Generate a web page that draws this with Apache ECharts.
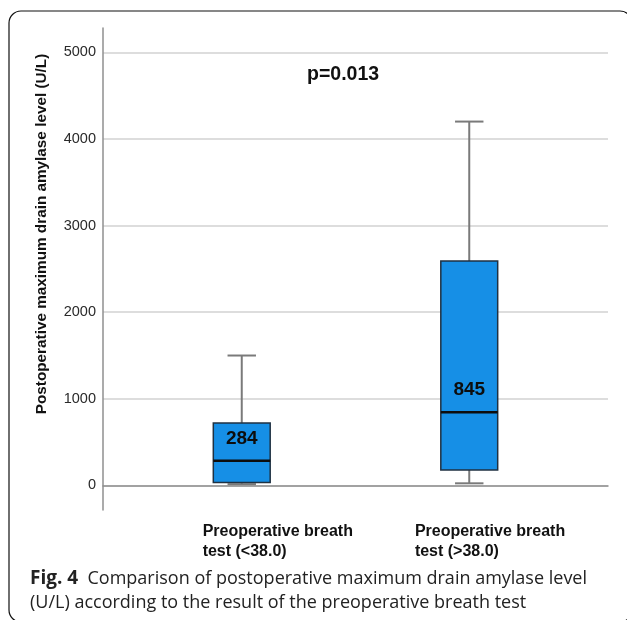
<!DOCTYPE html>
<html>
<head>
<meta charset="utf-8">
<script src="https://cdn.jsdelivr.net/npm/echarts@6/dist/echarts.min.js"></script>
<style>
html,body{margin:0;padding:0;background:#fff;}
#chart{width:627px;height:620px;}
</style>
</head>
<body>
<div id="chart"></div>
<script>
// ---- data ----
const categories = ['Preoperative breath\ntest (<38.0)', 'Preoperative breath\ntest (>38.0)'];
const whiskerLow = [15, 25];
const q1 = [35, 180];
const median = [284, 845];
const q3 = [722, 2590];
const whiskerHigh = [1500, 4200];
const yTicks = [0, 1000, 2000, 3000, 4000, 5000];
const pText = 'p=0.013';
const yTitle = 'Postoperative maximum drain amylase level (U/L)';
const captionBold = 'Fig. 4';
const captionLine1 = 'Comparison of postoperative maximum drain amylase level';
const captionLine2 = '(U/L) according to the result of the preoperative breath test';

const yMin = -283, yMax = 5280;
const FONT = '"Liberation Sans", Arial, sans-serif';

const boxData = categories.map((c, i) => [i, whiskerLow[i], q1[i], median[i], q3[i], whiskerHigh[i]]);

const chart = echarts.init(document.getElementById('chart'), null, {renderer: 'canvas'});

const gridTop = 28, gridBottom = 110;

const option = {
  backgroundColor: '#fff',
  animation: false,
  title: {
    text: pText, left: 302, top: 60,
    textStyle: {fontFamily: FONT, fontSize: 19.5, fontWeight: 'bold', color: '#111'}
  },
  grid: [
    {left: 103, right: 19, top: gridTop, bottom: gridBottom},   // frame / gridlines
    {left: 128, right: 44, top: gridTop, bottom: gridBottom},   // data
    {left: 96.5, right: 106, top: gridTop, bottom: gridBottom}  // category labels
  ],
  xAxis: [
    {gridIndex: 0, type: 'category', data: categories, boundaryGap: true,
     axisLine: {show: true, lineStyle: {color: '#8f8f8f', width: 1.5}},
     axisTick: {show: false}, axisLabel: {show: false}, splitLine: {show: false}},
    {gridIndex: 1, type: 'category', data: categories, boundaryGap: true,
     axisLine: {show: false}, axisTick: {show: false}, axisLabel: {show: false}},
    {gridIndex: 2, type: 'category', data: categories, boundaryGap: true,
     axisLine: {show: false}, axisTick: {show: false},
     axisLabel: {show: true, align: 'left', margin: 12, fontFamily: FONT, fontSize: 16,
                 fontWeight: 'bold', color: '#111', lineHeight: 20, interval: 0}}
  ],
  yAxis: [
    {gridIndex: 0, type: 'value', min: yMin, max: yMax,
     axisLine: {show: true, lineStyle: {color: '#8f8f8f', width: 1.5}},
     axisTick: {show: false, customValues: yTicks},
     axisLabel: {customValues: yTicks, margin: 7, fontFamily: FONT, fontSize: 14.5, color: '#2a2a2a',
                 formatter: function (v) { return String(v); }},
     splitLine: {show: true, lineStyle: {color: '#d2d2d2', width: 1.5}}},
    {gridIndex: 1, type: 'value', min: yMin, max: yMax, show: false, splitLine: {show: false}},
    {gridIndex: 2, type: 'value', min: yMin, max: yMax, show: false, splitLine: {show: false}}
  ],
  series: [{
    type: 'custom',
    xAxisIndex: 1, yAxisIndex: 1,
    data: boxData,
    encode: {x: 0, y: [1, 2, 3, 4, 5]},
    renderItem: function (params, api) {
      const i = api.value(0);
      const pLow = api.coord([i, api.value(1)]);
      const pQ1 = api.coord([i, api.value(2)]);
      const pMed = api.coord([i, api.value(3)]);
      const pQ3 = api.coord([i, api.value(4)]);
      const pHigh = api.coord([i, api.value(5)]);
      const band = api.size([1, 0])[0];
      const bw = band * 0.25;
      const cw = bw / 2;
      const cx = pMed[0];
      const wStyle = {stroke: '#7a7a7a', lineWidth: 2};
      return {
        type: 'group',
        children: [
          {type: 'line', shape: {x1: cx, y1: pQ3[1], x2: cx, y2: pHigh[1]}, style: wStyle},
          {type: 'line', shape: {x1: cx - cw / 2, y1: pHigh[1], x2: cx + cw / 2, y2: pHigh[1]}, style: wStyle},
          {type: 'line', shape: {x1: cx, y1: pQ1[1], x2: cx, y2: pLow[1]}, style: wStyle},
          {type: 'line', shape: {x1: cx - cw / 2, y1: pLow[1], x2: cx + cw / 2, y2: pLow[1]}, style: wStyle},
          {type: 'rect', shape: {x: cx - bw / 2, y: pQ3[1], width: bw, height: pQ1[1] - pQ3[1]},
           style: {fill: '#168fe6', stroke: '#1f3142', lineWidth: 1.5}},
          {type: 'line', shape: {x1: cx - bw / 2, y1: pMed[1], x2: cx + bw / 2, y2: pMed[1]},
           style: {stroke: '#0d0d0d', lineWidth: 2.5}},
          {type: 'text', x: cx, y: pMed[1] - 13,
           style: {text: String(api.value(3)), align: 'center', verticalAlign: 'bottom',
                   font: 'bold 19px ' + FONT, fill: '#0d0d0d'}}
        ]
      };
    }
  }],
  graphic: [
    {type: 'rect', shape: {x: 9, y: 11, width: 623, height: 611, r: 12},
     style: {fill: 'none', stroke: '#111', lineWidth: 1.2}, silent: true},
    {type: 'text', x: 42, y: 234, rotation: Math.PI / 2,
     style: {text: yTitle, align: 'center', verticalAlign: 'middle',
             font: 'bold 15.3px ' + FONT, fill: '#111'}},
    {type: 'text', x: 30, y: 567,
     style: {text: '{b|' + captionBold + '}  ' + captionLine1 + '\n' + captionLine2,
             font: '18px "Open Sans", sans-serif', fill: '#222', lineHeight: 24,
             rich: {b: {font: 'bold 19px "Open Sans", sans-serif', fill: '#222', lineHeight: 24}}}}
  ]
};
chart.setOption(option);
</script>
</body>
</html>
